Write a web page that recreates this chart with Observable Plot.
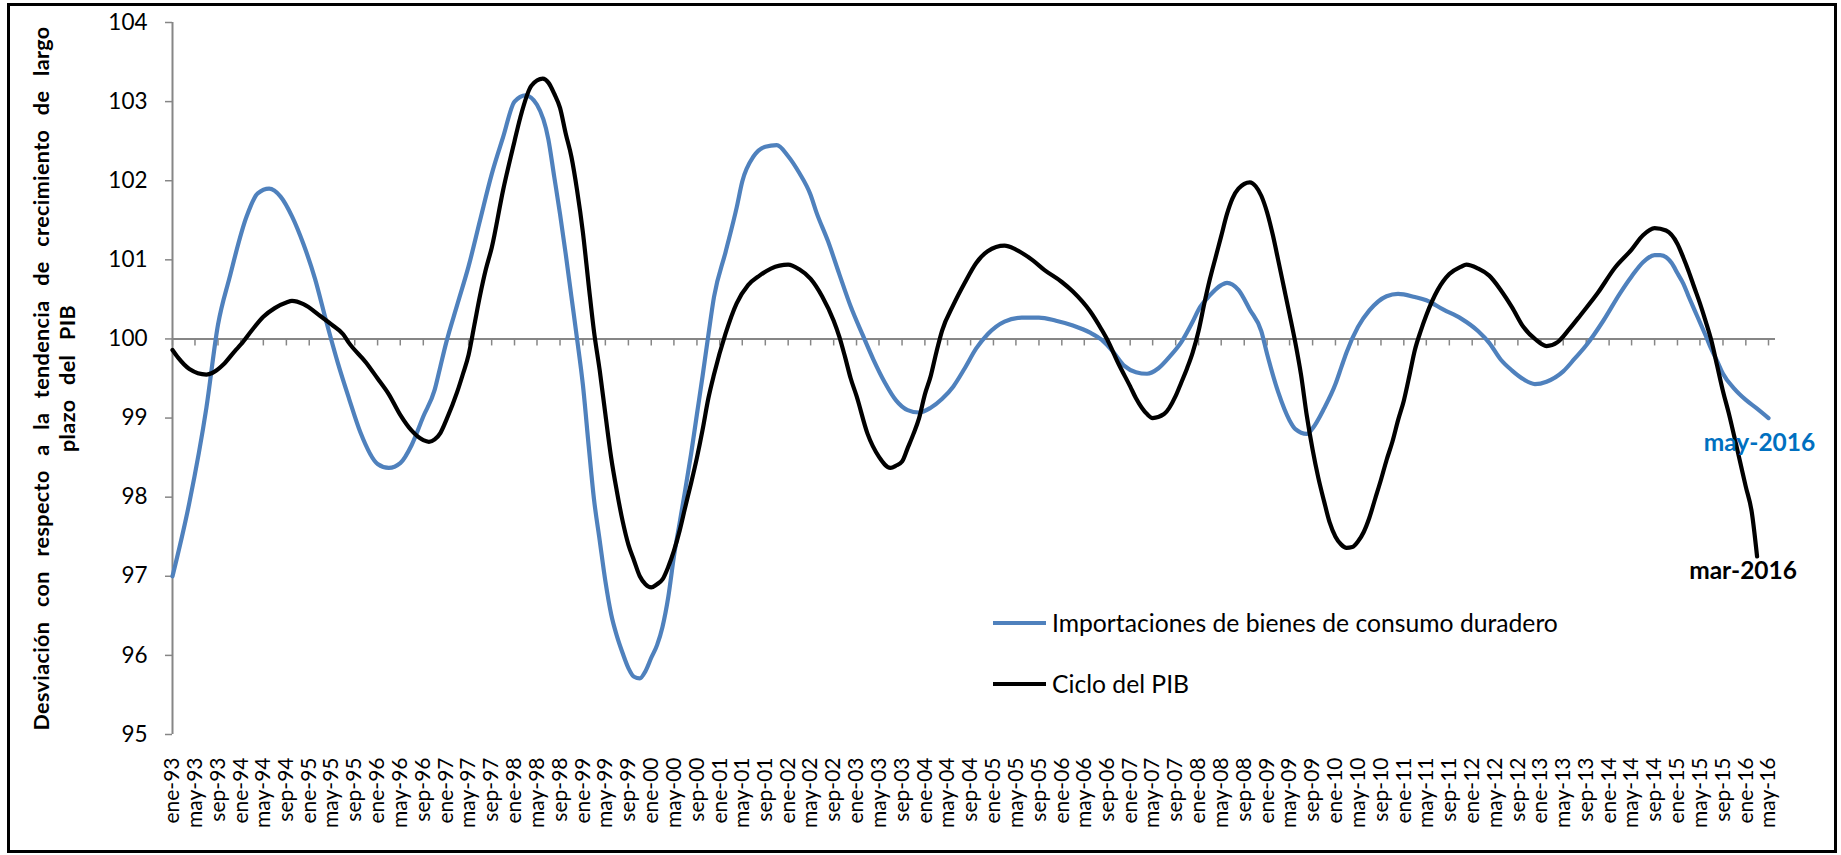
<!DOCTYPE html>
<html><head><meta charset="utf-8">
<script src="https://cdn.jsdelivr.net/npm/d3@7"></script>
<script src="https://cdn.jsdelivr.net/npm/@observablehq/plot@0.6"></script>
<style>
html,body{margin:0;padding:0;background:#fff;}
#wrap{position:relative;width:1841px;height:855px;font-family:Lato,sans-serif;overflow:hidden;}
#chart svg{display:block;}
#border{position:absolute;left:7px;top:3px;width:1830px;height:850px;border:3px solid #000;box-sizing:border-box;pointer-events:none;}
.legend{position:absolute;left:993px;display:flex;align-items:center;font-size:24.7px;line-height:30px;color:#000;white-space:nowrap;}
.legend .sw{display:inline-block;width:53px;height:4px;margin-right:6px;}
</style></head><body>
<div id="wrap"><div id="chart"></div><div id="border"></div><div id="legend"></div></div>
<script>
// ---- data ----
const seriesNames = ["Importaciones de bienes de consumo duradero", "Ciclo del PIB"];
const seriesColors = ["#4F81BD", "#000000"];
const endLabels = ["may-2016", "mar-2016"];
const endLabelColors = ["#0070C0", "#000000"];
const yTitle = "Desviación con respecto a la tendencia de crecimiento de largo\nplazo del PIB";
const yTicks = [95, 96, 97, 98, 99, 100, 101, 102, 103, 104];

const importMonths = [
"1993-01","1993-04","1993-07","1993-09","1993-11",
"1994-02","1994-04","1994-06","1994-08","1994-10","1994-12",
"1995-02","1995-04","1995-06","1995-08","1995-10",
"1996-01","1996-03","1996-05","1996-07","1996-09","1996-11","1996-12",
"1997-01","1997-03","1997-05","1997-07","1997-09","1997-11",
"1998-01","1998-03","1998-05","1998-07","1998-08","1998-09","1998-10","1998-11","1998-12",
"1999-01","1999-02","1999-03","1999-04","1999-05","1999-06","1999-07","1999-08","1999-09","1999-10","1999-11","1999-12",
"2000-01","2000-02","2000-03","2000-04","2000-05","2000-06","2000-07","2000-08","2000-09","2000-10","2000-11","2000-12",
"2001-02","2001-04","2001-05","2001-07","2001-09","2001-11",
"2002-01","2002-03","2002-05","2002-06","2002-08","2002-10","2002-12",
"2003-02","2003-04","2003-06","2003-08","2003-10","2003-12",
"2004-02","2004-04","2004-06","2004-08","2004-10","2004-12",
"2005-03","2005-06","2005-09","2005-12",
"2006-03","2006-06","2006-08","2006-10","2006-12",
"2007-02","2007-04","2007-06","2007-08","2007-10","2007-12",
"2008-01","2008-03","2008-05","2008-06","2008-08","2008-10","2008-12",
"2009-01","2009-03","2009-05","2009-06","2009-08","2009-09","2009-11",
"2010-01","2010-02","2010-03","2010-05","2010-07","2010-10","2010-12",
"2011-03","2011-05","2011-08","2011-11",
"2012-02","2012-04","2012-06","2012-08","2012-10","2012-12",
"2013-02","2013-05","2013-07","2013-09","2013-12",
"2014-03","2014-05","2014-07","2014-09","2014-10","2014-12",
"2015-01","2015-02","2015-03","2015-04","2015-05","2015-06","2015-07","2015-08","2015-09","2015-11",
"2016-01","2016-03","2016-05"];
const importValues = [
97.00,97.93,99.13,100.18,100.77,
101.55,101.84,101.90,101.80,101.55,101.20,
100.76,100.23,99.71,99.25,98.82,
98.42,98.37,98.43,98.66,99.02,99.36,99.65,
99.95,100.43,100.92,101.50,102.08,102.55,
103.00,103.08,102.96,102.52,102.05,101.58,101.08,100.53,100.00,
99.42,98.65,97.98,97.45,96.94,96.52,96.25,96.03,95.84,95.73,95.71,95.80,
95.97,96.13,96.36,96.74,97.25,97.68,98.10,98.55,99.05,99.53,100.05,100.53,
101.10,101.66,101.99,102.31,102.43,102.45,
102.31,102.10,101.82,101.60,101.24,100.82,100.41,
100.06,99.74,99.45,99.22,99.10,99.07,
99.13,99.24,99.40,99.63,99.88,100.06,
100.22,100.27,100.27,100.23,
100.17,100.08,99.99,99.84,99.66,
99.58,99.56,99.63,99.78,99.96,100.22,
100.37,100.55,100.68,100.71,100.62,100.37,100.10,
99.81,99.33,98.97,98.86,98.80,98.87,99.12,
99.43,99.64,99.83,100.15,100.36,100.54,100.57,
100.53,100.49,100.37,100.26,
100.10,99.95,99.74,99.60,99.49,99.43,
99.46,99.59,99.75,99.92,100.23,
100.58,100.79,100.97,101.06,101.06,100.96,
100.83,100.70,100.54,100.37,100.21,100.04,99.87,99.72,99.56,99.37,
99.23,99.12,99.00];

const pibMonths = [
"1993-01","1993-02","1993-04","1993-07","1993-08","1993-10","1993-12",
"1994-01","1994-03","1994-05","1994-07","1994-09","1994-10","1994-12",
"1995-03","1995-05","1995-07","1995-08","1995-11",
"1996-01","1996-03","1996-05","1996-07","1996-09","1996-10","1996-11","1996-12",
"1997-01","1997-03","1997-04","1997-05","1997-06","1997-07","1997-08","1997-09","1997-11",
"1998-01","1998-02","1998-04","1998-06","1998-07","1998-08","1998-09","1998-10","1998-11","1998-12",
"1999-01","1999-02","1999-03","1999-04","1999-05","1999-06","1999-07","1999-08","1999-09","1999-10","1999-11","1999-12",
"2000-01","2000-02","2000-03","2000-04","2000-05","2000-06","2000-07","2000-08","2000-09","2000-10","2000-11","2000-12",
"2001-02","2001-04","2001-06","2001-08","2001-10",
"2002-01","2002-03","2002-05","2002-07","2002-09","2002-10","2002-11","2002-12",
"2003-01","2003-03","2003-05","2003-07","2003-08","2003-09","2003-10","2003-11","2003-12",
"2004-01","2004-02","2004-03","2004-04","2004-06","2004-08","2004-10","2004-12",
"2005-03","2005-05","2005-08","2005-10",
"2006-01","2006-03","2006-06","2006-08","2006-09","2006-11",
"2007-01","2007-02","2007-04","2007-05","2007-07","2007-09","2007-10","2007-11","2007-12",
"2008-01","2008-02","2008-03","2008-04","2008-05","2008-06","2008-07","2008-08","2008-10","2008-11","2008-12",
"2009-01","2009-02","2009-03","2009-04","2009-05","2009-06","2009-07","2009-08","2009-09","2009-10","2009-11","2009-12",
"2010-01","2010-02","2010-03","2010-04","2010-05","2010-06","2010-07","2010-08","2010-09","2010-10","2010-11","2010-12",
"2011-01","2011-02","2011-03","2011-04","2011-05","2011-07","2011-09","2011-11","2011-12",
"2012-02","2012-04","2012-06","2012-08","2012-10","2012-12",
"2013-02","2013-04","2013-06","2013-08","2013-11",
"2014-02","2014-05","2014-07","2014-09","2014-11",
"2015-01","2015-02","2015-03","2015-04","2015-05","2015-06","2015-07","2015-08","2015-09","2015-10","2015-11","2015-12",
"2016-01","2016-02","2016-03"];
const pibValues = [
99.86,99.76,99.62,99.55,99.57,99.68,99.85,
99.93,100.11,100.28,100.39,100.46,100.48,100.44,
100.29,100.18,100.06,99.95,99.70,
99.50,99.30,99.04,98.84,98.72,98.70,98.73,98.81,
98.97,99.33,99.56,99.80,100.18,100.55,100.88,101.15,101.88,
102.50,102.80,103.20,103.29,103.24,103.10,102.92,102.60,102.30,101.88,
101.35,100.68,100.10,99.60,99.05,98.50,98.08,97.70,97.40,97.20,97.00,96.90,
96.86,96.90,96.96,97.12,97.32,97.58,97.88,98.18,98.50,98.85,99.25,99.55,
100.07,100.45,100.68,100.80,100.89,
100.94,100.88,100.76,100.54,100.23,100.03,99.77,99.50,
99.28,98.80,98.51,98.37,98.40,98.45,98.62,98.80,99.00,
99.30,99.53,99.82,100.10,100.43,100.71,100.96,101.11,
101.18,101.13,100.99,100.87,
100.72,100.60,100.35,100.12,99.99,99.68,
99.40,99.25,99.05,99.00,99.05,99.28,99.45,99.63,99.83,
100.10,100.45,100.75,101.03,101.30,101.58,101.78,101.90,101.98,101.93,101.81,
101.60,101.31,101.00,100.65,100.31,99.95,99.55,99.03,98.60,98.25,97.95,97.68,
97.50,97.40,97.36,97.37,97.44,97.56,97.74,97.98,98.22,98.47,98.70,98.97,
99.22,99.55,99.86,100.10,100.30,100.62,100.82,100.91,100.94,
100.89,100.80,100.62,100.40,100.15,100.00,
99.91,99.96,100.12,100.30,100.58,
100.90,101.13,101.31,101.40,101.37,
101.20,101.03,100.86,100.65,100.45,100.22,99.98,99.66,99.34,99.07,98.76,98.45,
98.13,97.82,97.25];

const tickLabels = ["ene-93","may-93","sep-93","ene-94","may-94","sep-94","ene-95","may-95","sep-95","ene-96","may-96","sep-96","ene-97","may-97","sep-97","ene-98","may-98","sep-98","ene-99","may-99","sep-99","ene-00","may-00","sep-00","ene-01","may-01","sep-01","ene-02","may-02","sep-02","ene-03","may-03","sep-03","ene-04","may-04","sep-04","ene-05","may-05","sep-05","ene-06","may-06","sep-06","ene-07","may-07","sep-07","ene-08","may-08","sep-08","ene-09","may-09","sep-09","ene-10","may-10","sep-10","ene-11","may-11","sep-11","ene-12","may-12","sep-12","ene-13","may-13","sep-13","ene-14","may-14","sep-14","ene-15","may-15","sep-15","ene-16","may-16"];
const monthAbbr = ["ene","feb","mar","abr","may","jun","jul","ago","sep","oct","nov","dic"];

// ---- build ----
const parse = d3.utcParse("%Y-%m");
const importData = importMonths.map((m, i) => ({date: parse(m), value: importValues[i]}));
const pibData = pibMonths.map((m, i) => ({date: parse(m), value: pibValues[i]}));
const parseTick = s => {
  const [m, yy] = s.split("-");
  const y = +yy < 50 ? 2000 + +yy : 1900 + +yy;
  return new Date(Date.UTC(y, monthAbbr.indexOf(m), 1));
};
const tickDates = tickLabels.map(parseTick);
const labelOf = new Map(tickDates.map((d, i) => [+d, tickLabels[i]]));
const gray = "#868686";
const xDomain = [tickDates[0], tickDates[tickDates.length - 1]];

const chart = Plot.plot({
  width: 1841, height: 855,
  marginLeft: 172, marginRight: 73, marginTop: 22, marginBottom: 121,
  style: {fontFamily: "Lato, sans-serif", background: "transparent", overflow: "visible", color: "#000"},
  x: {type: "utc", domain: xDomain},
  y: {domain: [95, 104]},
  marks: [
    Plot.ruleY([100], {stroke: gray, strokeWidth: 2, insetRight: -7}),
    Plot.ruleX(tickDates, {x: d => d, y1: 100, y2: 100, insetBottom: -7, stroke: gray, strokeWidth: 1.5}),
    Plot.ruleX([xDomain[0]], {x: d => d, y1: 95, y2: 104, stroke: gray, strokeWidth: 2}),
    Plot.axisY({ticks: yTicks, tickSize: 7, tickFormat: () => "", stroke: gray, strokeWidth: 1.5, label: null}),
    Plot.axisY({ticks: yTicks, tickSize: 0, tickPadding: 25, fontSize: 22.5, label: null}),
    Plot.axisX({ticks: tickDates, tickFormat: d => labelOf.get(+d), tickRotate: -90, tickSize: 0, tickPadding: 23, fontSize: 21, label: null}),
    Plot.text([yTitle], {frameAnchor: "left", text: d => d, rotate: -90, dx: -119, fontSize: 21.5, fontWeight: "bold", lineHeight: 1.2, textAnchor: "middle"}),
    Plot.line(importData, {x: "date", y: "value", stroke: seriesColors[0], strokeWidth: 4.2, curve: "monotone-x", strokeLinejoin: "round", strokeLinecap: "round"}),
    Plot.line(pibData, {x: "date", y: "value", stroke: seriesColors[1], strokeWidth: 4.2, curve: "monotone-x", strokeLinejoin: "round", strokeLinecap: "round"}),
    Plot.text([importData[importData.length - 1]], {x: "date", y: "value", text: () => endLabels[0], dx: -9, dy: 25, fill: endLabelColors[0], fontWeight: "bold", fontSize: 24.5}),
    Plot.text([pibData[pibData.length - 1]], {x: "date", y: "value", text: () => endLabels[1], dx: -14, dy: 15, fill: endLabelColors[1], fontWeight: "bold", fontSize: 24.5})
  ]
});
document.getElementById("chart").appendChild(chart);

// widen word gaps of the y-axis title like the original
d3.select(chart).selectAll("text").filter(function() { return this.textContent.startsWith("Desviación"); })
  .style("word-spacing", "9px").style("letter-spacing", "0.4px");

// legend (HTML, placed inside the plot area)
const legend = document.getElementById("legend");
const legendTops = [608, 669];
seriesNames.forEach((name, i) => {
  const row = document.createElement("div");
  row.className = "legend";
  row.style.top = legendTops[i] + "px";
  const sw = document.createElement("span");
  sw.className = "sw";
  sw.style.background = seriesColors[i];
  row.appendChild(sw);
  row.appendChild(document.createTextNode(name));
  legend.appendChild(row);
});
</script>
</body></html>
